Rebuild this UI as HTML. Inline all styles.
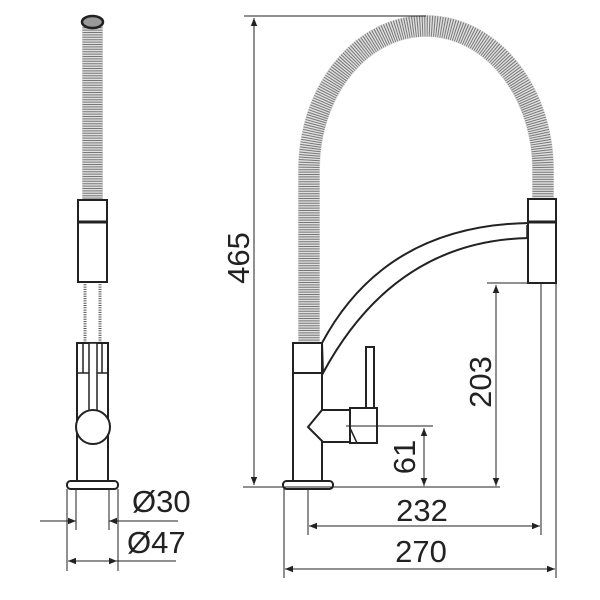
<!DOCTYPE html>
<html><head><meta charset="utf-8"><style>html,body{margin:0;padding:0;background:#fff}svg{display:block}text{font-family:"Liberation Sans",sans-serif;fill:#222}</style></head>
<body>
<svg width="600" height="600" viewBox="0 0 600 600" xmlns="http://www.w3.org/2000/svg">
<defs>
<marker id="a" viewBox="0 0 10 10" refX="10" refY="5" markerWidth="11" markerHeight="8" markerUnits="userSpaceOnUse" orient="auto-start-reverse"><path d="M0,1 L10,5 L0,9 z" fill="#222"/></marker>
</defs>
<g fill="none" stroke="#222">
<!-- LEFT VIEW -->
<path d="M92.5 201 L92.5 22" stroke="#e0e0e0" stroke-width="21"/>
<path d="M92.5 201 L92.5 22" stroke="#777" stroke-width="20" stroke-dasharray="1 1.4"/>
<ellipse cx="92.5" cy="22" rx="10.5" ry="6" stroke-width="2.5" fill="#999"/>
<path d="M85 282 L85 343 M100 282 L100 343" stroke="#555" stroke-width="3" stroke-dasharray="1 1.3"/>
<rect x="78" y="200" width="29" height="82" stroke-width="2" fill="#fff"/>
<line x1="78" y1="222" x2="107" y2="222" stroke-width="3"/>
<rect x="77" y="343" width="31" height="139" stroke-width="2" fill="#fff"/>
<path d="M77 373 L89 373 M97 373 L108 373 M83 343 L83 373 M102 343 L102 373" stroke-width="1.5"/>
<rect x="89" y="343" width="8" height="70" stroke-width="1.5" fill="#fff"/>
<circle cx="93" cy="427" r="17" stroke-width="2" fill="#fff"/>
<rect x="67" y="481" width="51" height="8" rx="3.5" stroke-width="2" fill="#fff"/>
<path d="M76 489 L76 530 M109 489 L109 530 M67 489 L67 571 M118 489 L118 571" stroke-width="1"/>
<line x1="40" y1="521" x2="76" y2="521" stroke-width="1" marker-end="url(#a)"/>
<line x1="178" y1="521" x2="109" y2="521" stroke-width="1" marker-end="url(#a)"/>
<line x1="68" y1="561" x2="117" y2="561" stroke-width="1" marker-start="url(#a)" marker-end="url(#a)"/>
<line x1="117" y1="561" x2="176" y2="561" stroke-width="1"/>

<!-- RIGHT VIEW -->
<path d="M309 343 L309 170 A117 144 0 0 1 543 170 L543 200" stroke="#e0e0e0" stroke-width="22"/>
<path d="M309 343 L309 170 A117 144 0 0 1 543 170 L543 200" stroke="#777" stroke-width="21" stroke-dasharray="1 1.4"/>
<!-- spout -->
<path d="M322 343 Q385 225 530 223 L530 238 Q395 240 323 373 Z" stroke-width="2" fill="#fff"/>
<line x1="527" y1="225" x2="527" y2="239" stroke-width="1.5"/>
<rect x="293" y="343" width="29" height="30" stroke-width="2" fill="#fff"/>
<rect x="293" y="373" width="29" height="109" stroke-width="2" fill="#fff"/>
<rect x="528" y="199" width="28" height="84" stroke-width="2" fill="#fff"/>
<line x1="528" y1="222" x2="556" y2="222" stroke-width="3"/>
<!-- lever -->
<rect x="366" y="347" width="8" height="62" stroke-width="2" fill="#fff"/>
<path d="M322 410 L350 410 L350 442 L323 442 L308 427 Z" stroke-width="2" fill="#fff"/>
<line x1="322" y1="410" x2="308" y2="427" stroke-width="1.5"/>
<rect x="350" y="408" width="27" height="35" stroke-width="2" fill="#fff"/>
<path d="M350 428 L357 443" stroke-width="1.5"/>
<rect x="283" y="481" width="50" height="8" rx="3.5" stroke-width="2" fill="#fff"/>
<!-- dims -->
<path d="M244 16 L426 16 M243 487 L500 487" stroke-width="1"/>
<line x1="254" y1="18" x2="254" y2="485" stroke-width="1" marker-start="url(#a)" marker-end="url(#a)"/>
<path d="M346 426 L433 426 M487 283 L556 283" stroke-width="1"/>
<line x1="424" y1="428" x2="424" y2="486" stroke-width="1" marker-start="url(#a)" marker-end="url(#a)"/>
<line x1="496" y1="285" x2="496" y2="486" stroke-width="1" marker-start="url(#a)" marker-end="url(#a)"/>
<path d="M308 489 L308 535 M541 283 L541 535 M284 489 L284 578 M556 283 L556 578" stroke-width="1"/>
<line x1="309" y1="526" x2="540" y2="526" stroke-width="1" marker-start="url(#a)" marker-end="url(#a)"/>
<line x1="285" y1="569" x2="555" y2="569" stroke-width="1" marker-start="url(#a)" marker-end="url(#a)"/>
</g>
<g font-size="31">
<text x="132" y="512">Ø30</text>
<text x="127" y="553">Ø47</text>
<text x="422" y="521" text-anchor="middle">232</text>
<text x="421" y="562" text-anchor="middle">270</text>
<text transform="translate(249 258) rotate(-90)" text-anchor="middle">465</text>
<text transform="translate(491 382) rotate(-90)" text-anchor="middle">203</text>
<text transform="translate(415 457) rotate(-90)" text-anchor="middle">61</text>
</g>
</svg>
</body></html>
